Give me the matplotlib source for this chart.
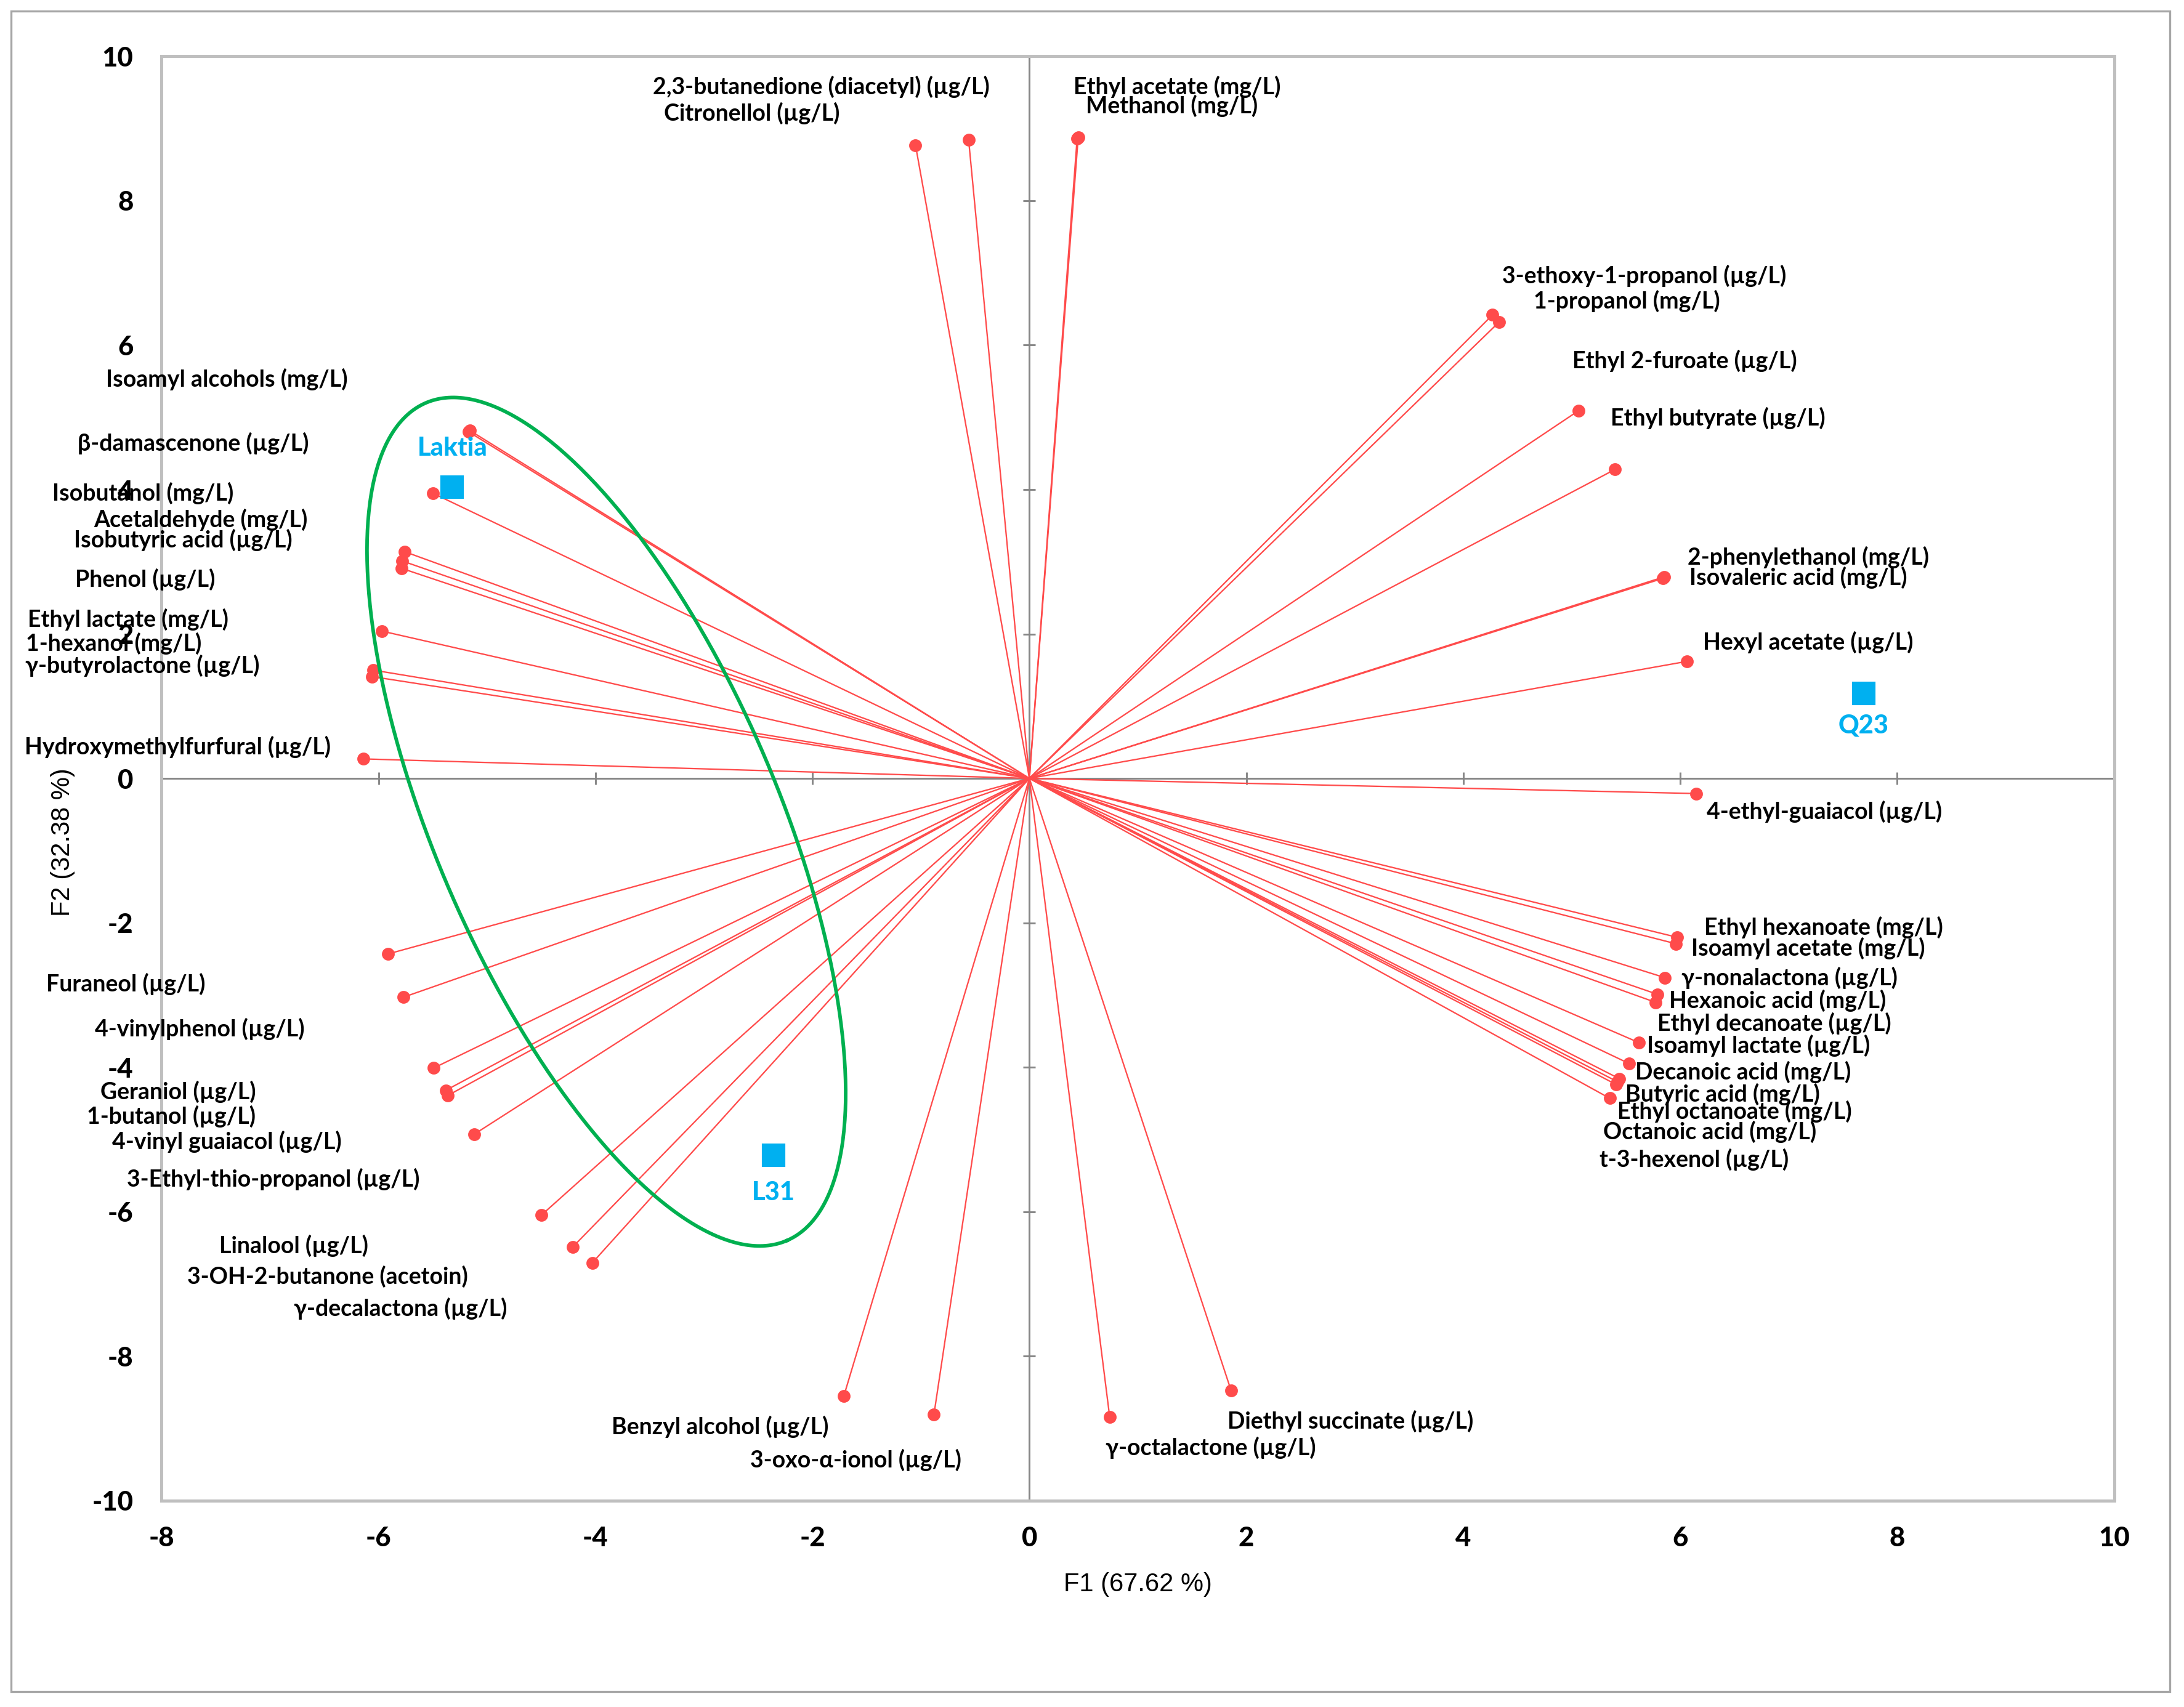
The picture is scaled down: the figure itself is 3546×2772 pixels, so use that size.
import numpy as np
import matplotlib.pyplot as plt
from matplotlib.patches import Rectangle

RED = '#ff4b4b'
BLUE = '#00b0f0'
GREEN = '#00b050'
GRAY = '#868686'
FONT = ['Lato', 'DejaVu Sans']

plt.rcParams['axes.unicode_minus'] = False

# variables (F1, F2 loadings scaled to the biplot)
variables = [
    '2,3-butanedione (diacetyl) (µg/L)', 'Citronellol (µg/L)',
    'Ethyl acetate (mg/L)', 'Methanol (mg/L)',
    '3-ethoxy-1-propanol (µg/L)', '1-propanol (mg/L)',
    'Ethyl 2-furoate (µg/L)', 'Ethyl butyrate (µg/L)',
    '2-phenylethanol (mg/L)', 'Isovaleric acid (mg/L)',
    'Hexyl acetate (µg/L)', '4-ethyl-guaiacol (µg/L)',
    'Ethyl hexanoate (mg/L)', 'Isoamyl acetate (mg/L)',
    'γ-nonalactona (µg/L)', 'Hexanoic acid (mg/L)',
    'Ethyl decanoate (µg/L)', 'Isoamyl lactate (µg/L)',
    'Decanoic acid (mg/L)', 'Butyric acid (mg/L)',
    'Ethyl octanoate (mg/L)', 'Octanoic acid (mg/L)',
    't-3-hexenol (µg/L)', 'Diethyl succinate (µg/L)',
    'γ-octalactone (µg/L)', 'Benzyl alcohol (µg/L)',
    '3-oxo-α-ionol (µg/L)', 'Linalool (µg/L)',
    '3-OH-2-butanone (acetoin)', 'γ-decalactona (µg/L)',
    '3-Ethyl-thio-propanol (µg/L)', '4-vinyl guaiacol (µg/L)',
    '1-butanol (µg/L)', 'Geraniol (µg/L)',
    '4-vinylphenol (µg/L)', 'Furaneol (µg/L)',
    'Hydroxymethylfurfural (µg/L)', 'γ-butyrolactone (µg/L)',
    '1-hexanol (mg/L)', 'Ethyl lactate (mg/L)',
    'Phenol (µg/L)', 'Isobutyric acid (µg/L)',
    'Acetaldehyde (mg/L)', 'Isobutanol (mg/L)',
    'β-damascenone (µg/L)', 'Isoamyl alcohols (mg/L)',
]
f1 = [-0.56, -1.05, 0.45, 0.44, 4.27, 4.33, 5.06, 5.40, 5.85, 5.84,
      6.06, 6.15, 5.97, 5.96, 5.86, 5.79, 5.77, 5.62, 5.53, 5.44,
      5.42, 5.41, 5.35, 1.86, 0.74, -1.71, -0.88, -4.50, -4.21, -4.03,
      -5.12, -5.36, -5.38, -5.49, -5.77, -5.91, -6.14, -6.06, -6.05, -5.97,
      -5.79, -5.78, -5.76, -5.50, -5.17, -5.16]
f2 = [8.84, 8.77, 8.88, 8.86, 6.42, 6.32, 5.09, 4.28, 2.79, 2.77,
      1.62, -0.21, -2.20, -2.29, -2.76, -2.99, -3.10, -3.66, -3.95, -4.16,
      -4.20, -4.24, -4.43, -8.48, -8.84, -8.55, -8.81, -6.05, -6.49, -6.71,
      -4.93, -4.39, -4.32, -4.01, -3.03, -2.43, 0.27, 1.41, 1.50, 2.04,
      2.91, 3.01, 3.14, 3.95, 4.80, 4.82]

# where each variable name sits (label centre, data units)
label_x = [-1.92, -2.56, 1.36, 1.31, 5.67, 5.51, 6.04, 6.35, 7.18, 7.09,
           7.18, 7.33, 7.32, 7.18, 7.01, 6.90, 6.87, 6.72, 6.58, 6.39,
           6.50, 6.27, 6.13, 2.96, 1.67, -2.85, -1.60, -6.78, -6.47, -5.80,
           -6.97, -7.40, -7.91, -7.85, -7.65, -8.33, -7.85, -8.18, -8.44, -8.31,
           -8.15, -7.80, -7.64, -8.17, -7.71, -7.40]
label_y = [9.58, 9.21, 9.58, 9.31, 6.96, 6.61, 5.78, 4.99, 3.06, 2.78,
           1.89, -0.46, -2.06, -2.35, -2.76, -3.08, -3.39, -3.70, -4.07, -4.37,
           -4.61, -4.89, -5.28, -8.90, -9.27, -8.98, -9.44, -6.47, -6.90, -7.34,
           -5.55, -5.03, -4.68, -4.34, -3.47, -2.85, 0.44, 1.56, 1.87, 2.20,
           2.76, 3.30, 3.58, 3.95, 4.64, 5.53]

# observations
obs_names = ['Laktia', 'Q23', 'L31']
obs_f1 = [-5.32, 7.69, -2.36]
obs_f2 = [4.03, 1.18, -5.22]
obs_label_y = [4.57, 0.73, -5.74]

# green grouping ellipse: centre, half major and half minor axis vectors
ell_centre = (-3.90, -0.60)
ell_major = (1.665, -5.80)
ell_minor = (1.448, 0.939)

xticks = np.arange(-8, 11, 2)
yticks = np.arange(-10, 11, 2)

fig = plt.figure(figsize=(11.82, 9.24), dpi=300)
ax = fig.add_axes([0.074, 0.121, 0.894, 0.846])

ax.axhline(0, color=GRAY, lw=0.7, zorder=1)
ax.axvline(0, color=GRAY, lw=0.7, zorder=1)
ax.plot(np.zeros(len(yticks)), yticks, ls='none', marker='_', ms=5, mew=0.7, color=GRAY, zorder=1)
ax.plot(xticks, np.zeros(len(xticks)), ls='none', marker='|', ms=5, mew=0.7, color=GRAY, zorder=1)

for name, x, y, lx, ly in zip(variables, f1, f2, label_x, label_y):
    ax.plot([0, x], [0, y], color=RED, lw=0.55, zorder=2)
    ax.plot(x, y, 'o', color=RED, ms=4, zorder=3)
    ax.text(lx, ly, name, ha='center', va='center', fontsize=9, fontweight='bold',
            family=FONT, clip_on=False, zorder=4)

t = np.linspace(0, 2 * np.pi, 400)
ex = ell_centre[0] + np.cos(t) * ell_major[0] + np.sin(t) * ell_minor[0]
ey = ell_centre[1] + np.cos(t) * ell_major[1] + np.sin(t) * ell_minor[1]
ax.plot(ex, ey, color=GREEN, lw=1.4, zorder=3)

ax.plot(obs_f1, obs_f2, 's', color=BLUE, ms=8, zorder=5)
for name, x, ly in zip(obs_names, obs_f1, obs_label_y):
    ax.text(x, ly, name, ha='center', va='center', fontsize=10, fontweight='black',
            color=BLUE, family=FONT, zorder=5)

ax.set_xlim(-8, 10)
ax.set_ylim(-10, 10)
ax.set_xticks(xticks)
ax.set_yticks(yticks)
ax.tick_params(axis='both', length=0, labelsize=10.5)
ax.tick_params(axis='y', pad=11)
ax.tick_params(axis='x', pad=10)
for lbl in ax.get_xticklabels() + ax.get_yticklabels():
    lbl.set_fontweight('black')
    lbl.set_family(FONT)
for sp in ax.spines.values():
    sp.set_color('#bfbfbf')
    sp.set_linewidth(1.2)

fig.text(0.521, 0.0718, 'F1 (67.62 %)', ha='center', va='center', fontsize=10,
         family='Liberation Sans')
fig.text(0.0287, 0.5065, 'F2 (32.38 %)', ha='center', va='center', fontsize=10,
         rotation=90, family='Liberation Sans')

fig.add_artist(Rectangle((0.0051, 0.009), 0.9885, 0.9845, transform=fig.transFigure,
                         fill=False, ec='#a6a6a6', lw=0.8))

fig.savefig('out.png', dpi=300)
